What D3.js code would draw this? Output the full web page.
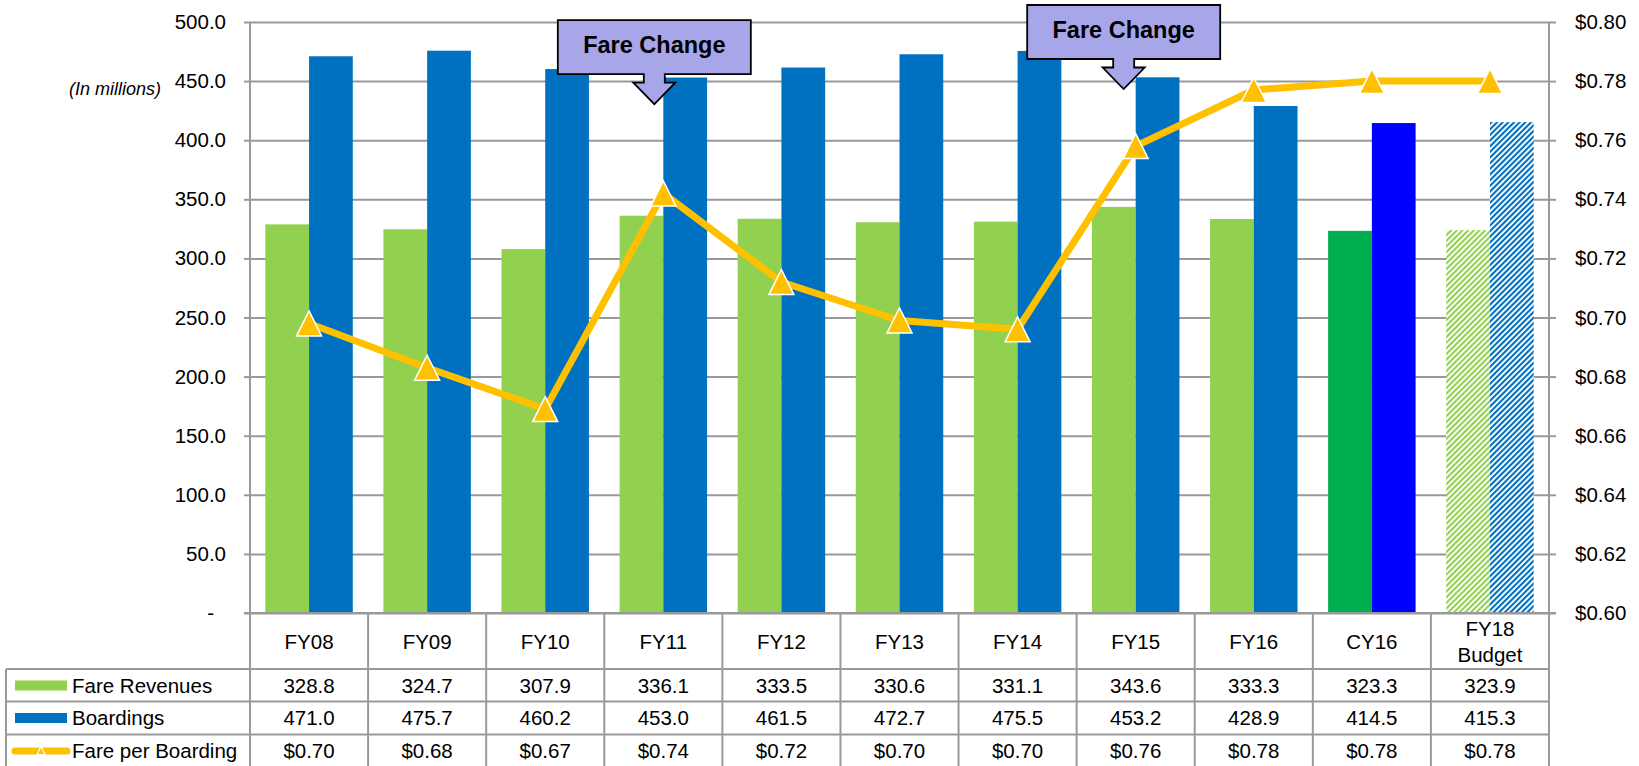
<!DOCTYPE html>
<html>
<head>
<meta charset="utf-8">
<script src="https://cdn.jsdelivr.net/npm/d3@7"></script>
<style>
  body { margin: 0; background: #fff; }
  text { font-family: "Liberation Sans", Arial, sans-serif; fill: #000; }
</style>
</head>
<body>
<div id="chart"></div>
<script>
// data
var categories = ["FY08", "FY09", "FY10", "FY11", "FY12", "FY13", "FY14", "FY15", "FY16", "CY16", "FY18 Budget"];
var fareRevenues = [328.8, 324.7, 307.9, 336.1, 333.5, 330.6, 331.1, 343.6, 333.3, 323.3, 323.9];
var boardings = [471.0, 475.7, 460.2, 453.0, 461.5, 472.7, 475.5, 453.2, 428.9, 414.5, 415.3];
// line positions as plotted, and the table's printed values
var farePerBoarding = [0.698, 0.683, 0.669, 0.742, 0.712, 0.699, 0.696, 0.758, 0.777, 0.780, 0.780];
var fareLabels = ["$0.70", "$0.68", "$0.67", "$0.74", "$0.72", "$0.70", "$0.70", "$0.76", "$0.78", "$0.78", "$0.78"];
var leftTicks = [0, 50, 100, 150, 200, 250, 300, 350, 400, 450, 500];
var rightTicks = [0.60, 0.62, 0.64, 0.66, 0.68, 0.70, 0.72, 0.74, 0.76, 0.78, 0.80];
var fareChanges = [{cat: "FY11", value: 430.5, shift: -9}, {cat: "FY15", value: 443.3, shift: -12}];

// dimensions (plot area + table below it)
var W = 1639, H = 766;
var plotLeft = 250, plotRight = 1549, plotTop = 22, plotBottom = 613;
var rowLines = [669, 701.5, 734.5];
var gridColor = "#999999";

var svg = d3.select("#chart")
  .append("svg")
    .attr("width", W)
    .attr("height", H);

// hatch patterns for the budget bars
var defs = svg.append("defs");
function hatch(id, color) {
  var p = defs.append("pattern")
    .attr("id", id)
    .attr("patternUnits", "userSpaceOnUse")
    .attr("width", 4)
    .attr("height", 4)
    .attr("patternTransform", "rotate(45)");
  p.append("rect").attr("width", 4).attr("height", 4).attr("fill", "#fff");
  p.append("line")
    .attr("x1", 1).attr("y1", 0).attr("x2", 1).attr("y2", 4)
    .attr("stroke", color).attr("stroke-width", 2.2);
}
hatch("hatchGreen", "#92D050");
hatch("hatchBlue", "#0070C0");

var barFill = {
  rev: function(c) { return c == "CY16" ? "#00B050" : c == "FY18 Budget" ? "url(#hatchGreen)" : "#92D050"; },
  board: function(c) { return c == "CY16" ? "#0000FF" : c == "FY18 Budget" ? "url(#hatchBlue)" : "#0070C0"; }
};

// scales
var x = d3.scaleBand().domain(categories).range([plotLeft, plotRight]);
var x1 = d3.scaleBand().domain(["rev", "board"]).range([0, x.bandwidth()]).paddingOuter(0.35);
var y = d3.scaleLinear().domain([0, 500]).range([plotBottom, plotTop]);
var y2 = d3.scaleLinear().domain([0.6, 0.8]).range([plotBottom, plotTop]);

// gridlines
svg.append("g")
  .attr("transform", "translate(" + plotLeft + ",0)")
  .call(d3.axisLeft(y).tickValues(leftTicks).tickSize(-(plotRight - plotLeft)).tickFormat(""))
  .call(function(g) { g.select(".domain").remove(); })
  .selectAll("line")
    .attr("stroke", gridColor)
    .attr("stroke-width", 2);

// left axis
var yAxis = svg.append("g")
  .attr("transform", "translate(" + plotLeft + ",0)")
  .call(d3.axisLeft(y).tickValues(leftTicks).tickSize(6).tickPadding(18)
    .tickFormat(function(d) { return d == 0 ? "-" : d3.format(".1f")(d); }));
yAxis.select(".domain").remove();
yAxis.selectAll("line").attr("stroke", gridColor).attr("stroke-width", 2);
yAxis.selectAll("text").style("font-size", "20.5px").attr("fill", "#000");
yAxis.selectAll("text").filter(function(d) { return d == 0; }).attr("dx", -12);

// right axis
var y2Axis = svg.append("g")
  .attr("transform", "translate(" + plotRight + ",0)")
  .call(d3.axisRight(y2).tickValues(rightTicks).tickSize(7).tickPadding(19)
    .tickFormat(d3.format("$.2f")));
y2Axis.select(".domain").remove();
y2Axis.selectAll("line").attr("stroke", gridColor).attr("stroke-width", 2);
y2Axis.selectAll("text").style("font-size", "20.5px").attr("fill", "#000");

svg.append("text")
  .attr("x", 161)
  .attr("y", 89)
  .attr("dy", "0.35em")
  .attr("text-anchor", "end")
  .style("font-size", "18px")
  .style("font-style", "italic")
  .text("(In millions)");

// bars
var barData = [];
categories.forEach(function(c, i) {
  barData.push({cat: c, key: "rev", value: fareRevenues[i]});
  barData.push({cat: c, key: "board", value: boardings[i]});
});
svg.append("g")
  .selectAll("rect")
  .data(barData)
  .enter()
  .append("rect")
    .attr("x", function(d) { return x(d.cat) + x1(d.key); })
    .attr("y", function(d) { return y(d.value); })
    .attr("width", x1.bandwidth())
    .attr("height", function(d) { return y(0) - y(d.value); })
    .attr("fill", function(d) { return barFill[d.key](d.cat); });

// fare per boarding line
var lineGen = d3.line()
  .x(function(d, i) { return x(categories[i]) + x.bandwidth() / 2; })
  .y(function(d) { return y2(d); });
svg.append("path")
  .datum(farePerBoarding)
  .attr("d", lineGen)
  .attr("fill", "none")
  .attr("stroke", "#FFC000")
  .attr("stroke-width", 7)
  .attr("stroke-linejoin", "round");

function tri(s) { return "M0," + (-s) + "L" + s + "," + s + "L" + (-s) + "," + s + "Z"; }
svg.append("g")
  .selectAll("path")
  .data(farePerBoarding)
  .enter()
  .append("path")
    .attr("d", tri(12.5))
    .attr("transform", function(d, i) { return "translate(" + (x(categories[i]) + x.bandwidth() / 2) + "," + y2(d) + ")"; })
    .attr("fill", "#FFC000")
    .attr("stroke", "#fff")
    .attr("stroke-width", 1.5);

// axis + table frame
svg.append("line")
  .attr("x1", plotLeft - 6).attr("x2", plotRight + 7)
  .attr("y1", plotBottom).attr("y2", plotBottom)
  .attr("stroke", gridColor).attr("stroke-width", 2);
var bounds = categories.map(function(c) { return x(c); }).concat([plotRight]);
svg.append("g")
  .selectAll("line")
  .data(bounds)
  .enter()
  .append("line")
    .attr("x1", function(d) { return d; })
    .attr("x2", function(d) { return d; })
    .attr("y1", function(d, i) { return (i == 0 || i == bounds.length - 1) ? plotTop : plotBottom; })
    .attr("y2", H)
    .attr("stroke", gridColor)
    .attr("stroke-width", 2);
svg.append("line")
  .attr("x1", 6).attr("x2", 6)
  .attr("y1", rowLines[0]).attr("y2", H)
  .attr("stroke", gridColor).attr("stroke-width", 2);
svg.append("g")
  .selectAll("line")
  .data(rowLines)
  .enter()
  .append("line")
    .attr("x1", 6).attr("x2", plotRight)
    .attr("y1", function(d) { return d; })
    .attr("y2", function(d) { return d; })
    .attr("stroke", gridColor)
    .attr("stroke-width", 2);

// category labels
var catText = svg.append("g")
  .selectAll("text")
  .data(categories)
  .enter()
  .append("text")
    .attr("text-anchor", "middle")
    .style("font-size", "20.5px");
catText.each(function(d) {
  var words = d.split(" ");
  var t = d3.select(this);
  words.forEach(function(w, i) {
    t.append("tspan")
      .attr("x", x(d) + x.bandwidth() / 2)
      .attr("y", 642 + (i - (words.length - 1) / 2) * 26)
      .attr("dy", "0.35em")
      .text(w);
  });
});

// table rows
var rows = [
  {label: "Fare Revenues", values: fareRevenues.map(d3.format(".1f"))},
  {label: "Boardings", values: boardings.map(d3.format(".1f"))},
  {label: "Fare per Boarding", values: fareLabels}
];
var rowMid = [685.5, 718, 751];
rows.forEach(function(r, ri) {
  svg.append("text")
    .attr("x", 72)
    .attr("y", rowMid[ri])
    .attr("dy", "0.35em")
    .style("font-size", "20.5px")
    .text(r.label);
  svg.append("g")
    .selectAll("text")
    .data(r.values)
    .enter()
    .append("text")
      .attr("x", function(d, i) { return x(categories[i]) + x.bandwidth() / 2; })
      .attr("y", rowMid[ri])
      .attr("dy", "0.35em")
      .attr("text-anchor", "middle")
      .style("font-size", "20.5px")
      .text(function(d) { return d; });
});

// legend keys in the table
svg.append("rect").attr("x", 15).attr("y", rowMid[0] - 5).attr("width", 52).attr("height", 10).attr("fill", "#92D050");
svg.append("rect").attr("x", 15).attr("y", rowMid[1] - 5).attr("width", 52).attr("height", 10).attr("fill", "#0070C0");
svg.append("line")
  .attr("x1", 15).attr("x2", 67)
  .attr("y1", rowMid[2]).attr("y2", rowMid[2])
  .attr("stroke", "#FFC000").attr("stroke-width", 7).attr("stroke-linecap", "round");
svg.append("path")
  .attr("d", tri(4))
  .attr("transform", "translate(41," + (rowMid[2] - 0.5) + ")")
  .attr("fill", "#FFC000").attr("stroke", "#fff").attr("stroke-width", 1.2);

// Fare Change callouts
fareChanges.forEach(function(f) {
  var tx = x(f.cat) + x.bandwidth() / 2 + f.shift;
  var ty = y(f.value);
  var p = "M" + (tx - 96.5) + "," + (ty - 84) + "H" + (tx + 96.5) + "V" + (ty - 30) +
    "H" + (tx + 10.5) + "V" + (ty - 21.5) + "H" + (tx + 21) + "L" + tx + "," + ty +
    "L" + (tx - 21) + "," + (ty - 21.5) + "H" + (tx - 10.5) + "V" + (ty - 30) +
    "H" + (tx - 96.5) + "Z";
  svg.append("path")
    .attr("d", p)
    .attr("fill", "#A6A6E8")
    .attr("stroke", "#000")
    .attr("stroke-width", 1.8);
  svg.append("text")
    .attr("x", tx)
    .attr("y", ty - 51.5)
    .attr("text-anchor", "middle")
    .style("font-size", "23.5px")
    .style("font-weight", "bold")
    .text("Fare Change");
});
</script>
</body>
</html>
